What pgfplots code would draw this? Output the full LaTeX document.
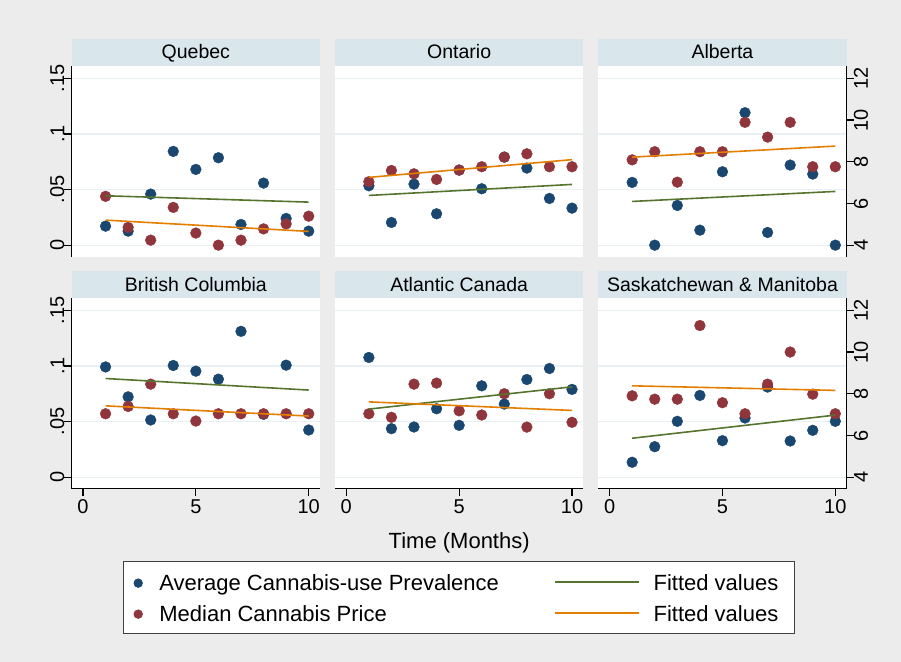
\documentclass[border=0pt]{standalone}
\usepackage{pgfplots}
\pgfplotsset{compat=1.18}
\usepackage{fontspec}
\setmainfont{Liberation Sans}

\definecolor{bgc}{RGB}{236,236,236}
\definecolor{hdr}{RGB}{217,230,235}
\definecolor{gridc}{RGB}{232,240,243}
\definecolor{navyS}{RGB}{26,71,111}
\definecolor{maroonS}{RGB}{144,53,59}
\definecolor{greenS}{RGB}{85,117,47}
\definecolor{orangeS}{RGB}{227,126,0}

\newcommand\tickfs{\fontsize{20bp}{24bp}\selectfont}
\newcommand\hdrfs{\fontsize{19.5bp}{23bp}\selectfont}
\newcommand\legfs{\fontsize{22bp}{26bp}\selectfont}

\pgfplotsset{
 base/.style={scale only axis,width=248.3bp,height=190.2bp,xmin=-0.5,xmax=10.5,anchor=south west},
 prevr/.style={ymin=-0.0102,ymax=0.1608},
 pricer/.style={ymin=3.456,ymax=12.576},
 axdeco/.style={axis line style={black,line width=1.2bp},tick style={black,line width=1.2bp},
   major tick length=7.2bp,tick align=outside,ticklabel style={font=\tickfs,inner sep=0pt}},
 prevax/.style={base,prevr,axdeco,axis background/.style={fill=white},
   ytick={0,0.05,0.1,0.15},ymajorgrids,grid style={gridc,line width=1.3bp},axis y line*=left},
 leftcol/.style={yticklabels={0,.05,.1,.15},yticklabel style={rotate=90,anchor=south}},
 notleft/.style={y axis line style={draw=none},ytick style={draw=none},yticklabels={}},
 toprow/.style={axis x line=none},
 botrow/.style={axis x line*=bottom,xtick={0,5,10},xticklabels={0,5,10},
   xticklabel style={anchor=north},xticklabel shift=3.5bp},
 priceax/.style={base,pricer,axdeco,axis x line=none},
 rightcol/.style={axis y line*=right,ytick={4,6,8,10,12},yticklabels={4,6,8,10,12},
   yticklabel style={rotate=90,anchor=north}},
 notright/.style={hide axis},
 bluepts/.style={only marks,mark=*,mark size=5.4bp,mark options={draw=navyS,fill=navyS}},
 redpts/.style={only marks,mark=*,mark size=5.4bp,mark options={draw=maroonS,fill=maroonS}},
 greenline/.style={no marks,greenS,line width=1.6bp},
 orangeline/.style={no marks,orangeS,line width=1.6bp},
}

\newcommand\panel[7]{%
 \begin{axis}[prevax,at={#1},#2]
 \addplot[bluepts] coordinates {#4};
 \end{axis}
 \begin{axis}[priceax,at={#1},#3]
 \addplot[redpts] coordinates {#5};
 \end{axis}
 \begin{axis}[base,prevr,hide axis,at={#1}]
 \addplot[greenline] coordinates {#6};
 \end{axis}
 \begin{axis}[base,pricer,hide axis,at={#1}]
 \addplot[orangeline] coordinates {#7};
 \end{axis}
}

\begin{document}
\begin{tikzpicture}
\fill[bgc] (0,0) rectangle (901bp,-662bp);

% headers
\fill[hdr] (71.7bp,-39.3bp) rectangle (320bp,-66.3bp);
\fill[hdr] (335bp,-39.3bp) rectangle (583.3bp,-66.3bp);
\fill[hdr] (598.3bp,-39.3bp) rectangle (846.6bp,-66.3bp);
\fill[hdr] (71.7bp,-271.3bp) rectangle (320bp,-298.3bp);
\fill[hdr] (335bp,-271.3bp) rectangle (583.3bp,-298.3bp);
\fill[hdr] (598.3bp,-271.3bp) rectangle (846.6bp,-298.3bp);
\node[anchor=base,font=\hdrfs,inner sep=0pt] at (195.85bp,-58.7bp) {Quebec};
\node[anchor=base,font=\hdrfs,inner sep=0pt] at (459.15bp,-58.7bp) {Ontario};
\node[anchor=base,font=\hdrfs,inner sep=0pt] at (722.45bp,-58.7bp) {Alberta};
\node[anchor=base,font=\hdrfs,inner sep=0pt] at (195.85bp,-291bp) {British Columbia};
\node[anchor=base,font=\hdrfs,inner sep=0pt] at (459.15bp,-291bp) {Atlantic Canada};
\node[anchor=base,font=\hdrfs,inner sep=0pt] at (722.45bp,-291bp) {Saskatchewan \& Manitoba};

% Quebec
\panel{(71.7bp,-256.5bp)}{leftcol,toprow}{notright}
{(1,0.0171)(2,0.0126)(3,0.0459)(4,0.0843)(5,0.0681)(6,0.0786)(7,0.0186)(8,0.0558)(9,0.0240)(10,0.0126)}
{(1,6.34)(2,4.85)(3,4.24)(4,5.81)(5,4.58)(6,4.00)(7,4.24)(8,4.78)(9,5.02)(10,5.39)}
{(1,0.0444)(10,0.0387)}
{(1,5.20)(10,4.66)}

% Ontario
\panel{(335bp,-256.5bp)}{notleft,toprow}{notright}
{(1,0.0534)(2,0.0204)(3,0.0549)(4,0.0282)(5,0.0675)(6,0.0507)(7,0.0792)(8,0.0693)(9,0.0420)(10,0.0333)}
{(1,7.04)(2,7.58)(3,7.42)(4,7.15)(5,7.60)(6,7.76)(7,8.22)(8,8.38)(9,7.76)(10,7.76)}
{(1,0.0447)(10,0.0546)}
{(1,7.25)(10,8.10)}

% Alberta
\panel{(598.3bp,-256.5bp)}{notleft,toprow}{rightcol}
{(1,0.0564)(2,0)(3,0.0357)(4,0.0135)(5,0.0660)(6,0.1191)(7,0.0114)(8,0.0720)(9,0.0639)(10,0)}
{(1,8.09)(2,8.48)(3,7.02)(4,8.48)(5,8.48)(6,9.89)(7,9.18)(8,9.89)(9,7.76)(10,7.76)}
{(1,0.0393)(10,0.0483)}
{(1,8.22)(10,8.75)}

% British Columbia
\panel{(71.7bp,-488.5bp)}{leftcol,botrow}{notright}
{(1,0.0991)(2,0.0722)(3,0.0514)(4,0.1004)(5,0.0953)(6,0.0881)(7,0.1311)(8,0.0565)(9,0.1007)(10,0.0424)}
{(1,7.04)(2,7.39)(3,8.46)(4,7.04)(5,6.69)(6,7.04)(7,7.04)(8,7.04)(9,7.04)(10,7.04)}
{(1,0.0887)(10,0.0783)}
{(1,7.42)(10,6.93)}

% Atlantic Canada
\panel{(335bp,-488.5bp)}{notleft,botrow}{notright}
{(1,0.1076)(2,0.0436)(3,0.0451)(4,0.0615)(5,0.0466)(6,0.0821)(7,0.0657)(8,0.0878)(9,0.0977)(10,0.0789)}
{(1,7.04)(2,6.87)(3,8.46)(4,8.51)(5,7.18)(6,6.98)(7,8.00)(8,6.40)(9,8.00)(10,6.63)}
{(1,0.0612)(10,0.0812)}
{(1,7.61)(10,7.20)}

% Saskatchewan & Manitoba
\panel{(598.3bp,-488.5bp)}{notleft,botrow}{rightcol}
{(1,0.0134)(2,0.0274)(3,0.0502)(4,0.0735)(5,0.0328)(6,0.0532)(7,0.0810)(8,0.0325)(9,0.0421)(10,0.0502)}
{(1,7.90)(2,7.74)(3,7.74)(4,11.27)(5,7.57)(6,7.04)(7,8.46)(8,10.00)(9,7.98)(10,7.04)}
{(1,0.0350)(10,0.0558)}
{(1,8.38)(10,8.16)}

% x axis title
\node[anchor=base,font=\legfs,inner sep=0pt] at (459.2bp,-548bp) {Time (Months)};

% legend
\begin{axis}[base,at={(335bp,-488.5bp)},hide axis,xmin=0,xmax=1,ymin=0,ymax=1,
  legend columns=2,legend cell align=left,
  legend style={at={(-0.8538,-0.3812)},anchor=north west,draw=black!75,line width=0.9bp,fill=white,
    inner xsep=0pt,inner ysep=5bp,row sep=0pt,column sep=0pt,font=\legfs,
    nodes={inner sep=0pt,text height=24.4bp,text depth=6.6bp,anchor=base west},
    cells={anchor=base west}}]
\addlegendimage{legend image code/.code={\path (0bp,0bp) (35bp,0bp);
  \path plot[mark=*,mark size=4.2bp,mark options={draw=navyS,fill=navyS}] coordinates {(14.3bp,7.7bp)};}}
\addlegendentry{\makebox[395.3bp][l]{Average Cannabis-use Prevalence}}
\addlegendimage{legend image code/.code={\draw[greenS,line width=1.6bp] (0bp,8.7bp) -- (84bp,8.7bp); \path (97.7bp,0bp);}}
\addlegendentry{\makebox[141bp][l]{Fitted values}}
\addlegendimage{legend image code/.code={\path (0bp,0bp) (35bp,0bp);
  \path plot[mark=*,mark size=4.2bp,mark options={draw=maroonS,fill=maroonS}] coordinates {(14.3bp,7.7bp)};}}
\addlegendentry{\makebox[395.3bp][l]{Median Cannabis Price}}
\addlegendimage{legend image code/.code={\draw[orangeS,line width=1.6bp] (0bp,8.7bp) -- (84bp,8.7bp); \path (97.7bp,0bp);}}
\addlegendentry{\makebox[141bp][l]{Fitted values}}
\end{axis}

\pgfresetboundingbox
\path (0,0) rectangle (901bp,-662bp);
\end{tikzpicture}
\end{document}
